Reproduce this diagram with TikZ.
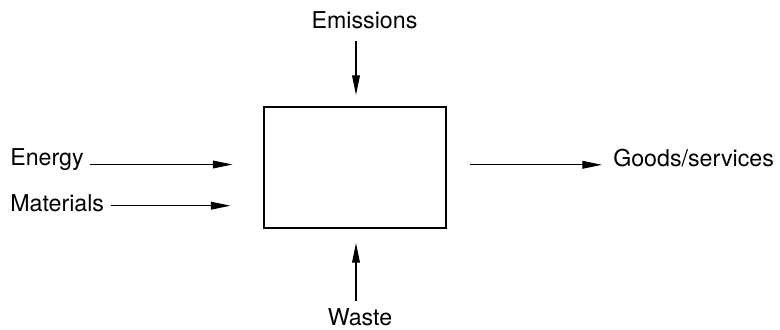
\documentclass[tikz,border=0pt]{standalone}
\usepackage{fontspec}
\setmainfont{TeX Gyre Heros}
\usetikzlibrary{arrows.meta,positioning}

\begin{document}
\begin{tikzpicture}[x=0.025cm, y=-0.025cm,
    lbl/.style={inner sep=0pt, font=\fontsize{16.5}{20}\selectfont},
    flow/.style={-{Triangle[length=14pt,width=5.5pt]}, line width=0.9pt}]
    \useasboundingbox (0,0) rectangle (780,329);

    % Process box
    \node[draw, line width=1.4pt, minimum width=4.55cm, minimum height=3.025cm] (proc) at (355,167.7) {};

    % Inputs on the left
    \node[lbl, anchor=base west] (energy) at (10,165) {Energy};
    \node[lbl, anchor=base west] (mat) at (10,211) {Materials};
    \coordinate (eIn) at (232.5,164.5);
    \coordinate (mIn) at (230.5,205.7);

    % Top and bottom flows
    \node[lbl, anchor=base] (emis) at (364.5,28.3) {Emissions};
    \node[lbl, anchor=base] (waste) at (360,325) {Waste};
    \coordinate (emIn) at (356,95);
    \coordinate (wIn) at (356,243);

    % Output
    \node[lbl, anchor=base west] (goods) at (613,166.7) {Goods/services};
    \coordinate (gOut) at (470,164.8);

    % Arrows
    \draw[flow, shorten <=4pt] (energy.east |- eIn) -- (eIn);
    \draw[flow, shorten <=5pt] (mat.east |- mIn) -- (mIn);
    \draw[flow, shorten <=8.3pt] (emis.south -| emIn) -- (emIn);
    \draw[flow, shorten <=5pt] (waste.north -| wIn) -- (wIn);
    \draw[flow, shorten >=7.8pt] (gOut) -- (goods.west |- gOut);
\end{tikzpicture}
\end{document}
